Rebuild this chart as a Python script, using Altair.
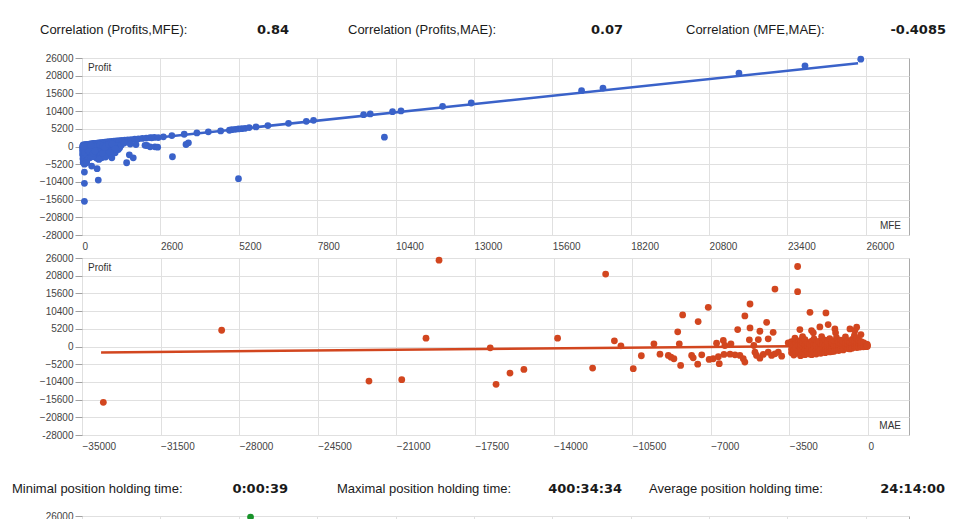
import altair as alt
import pandas as pd

# ---------------- data ----------------
header_labels = ["Correlation (Profits,MFE):", "Correlation (Profits,MAE):", "Correlation (MFE,MAE):"]
header_values = ["0.84", "0.07", "-0.4085"]
footer_labels = ["Minimal position holding time:", "Maximal position holding time:", "Average position holding time:"]
footer_values = ["0:00:39", "400:34:34", "24:14:00"]

y_ticks = [-26000, -20800, -15600, -10400, -5200, 0, 5200, 10400, 15600, 20800, 26000]
mfe_ticks = [0, 2600, 5200, 7800, 10400, 13000, 15600, 18200, 20800, 23400, 26000]
mae_ticks = [-35000, -31500, -28000, -24500, -21000, -17500, -14000, -10500, -7000, -3500, 0]
hold_ticks = [0, 40, 80, 120, 160, 200, 240, 280, 320, 360, 400]
hold_y_ticks = [26000]

# Profit vs MFE: points along the upper band
mfe_band = [40, 90, 140, 190, 240, 290, 340, 390, 440, 500, 560, 620, 690, 760, 830,
            900, 980, 1060, 1140, 1230, 1320, 1420, 1520, 1630, 1750, 1870, 2000, 2130,
            2260, 2310, 2400, 2530, 2700, 2980, 3390, 3810, 4190, 4600, 4890, 4970, 5080,
            5190, 5300, 5410, 5545, 5770, 6165, 6850, 7440, 7680, 9340, 9560, 10300,
            10580, 11960, 12910, 16570, 17280, 21790, 23980, 25830]
profit_band = [450, 520, 600, 640, 720, 780, 840, 900, 950, 1020, 1080, 1140, 1200, 1270, 1330,
               1400, 1470, 1540, 1620, 1700, 1780, 1870, 1960, 2050, 2150, 2250, 2360, 2470,
               2580, 2550, 2680, 2630, 2840, 3220, 3600, 4000, 4300, 4590, 4770, 4950, 5050,
               5150, 5250, 5350, 5560, 5760, 6145, 6820, 7410, 7700, 9360, 9560, 10240,
               10440, 11800, 12780, 16390, 17170, 21560, 23700, 25660]
# Profit vs MFE: cluster below the band
mfe_cluster = [20, 20, 30, 20, 40, 20, 30, 50, 30, 60, 40, 80,
               120, 150, 180, 130, 200, 160, 230, 110, 260, 190, 140, 280, 300, 320, 250, 350,
               380, 420, 400, 460, 500, 450, 520, 560, 600, 620, 820, 710, 650, 740, 790, 480, 530, 560,
               900, 960, 1000, 1050, 1100, 1205, 1150, 1250, 850, 780, 1300,
               1480, 1570, 1700, 1790, 2150, 2420, 2510, 2260, 2090, 3000, 3450, 3530, 10030,
               60, 100, 70, 90, 200, 240, 330, 360, 400, 600, 700, 760, 880, 1000, 1400, 1600,
               370, 430, 680, 300, 50, 1100, 930, 990]
profit_cluster = [100, -300, -700, -1200, -1600, -2100, -2600, -3100, -3600, -4100, -4700, -5200,
                  100, -300, -800, -1300, -1700, -2200, -2500, -2900, -3300, -3700, -4300, -600, -1100, -1900, -200, -400,
                  -1500, -2200, -900, -300, -1200, -2700, -1900, -600, -1500, -2400, -2630, -3010, -3310, -1000, -1700, -3400, -3500, -3800,
                  -500, 90, -1200, -300, -1840, -880, 200, -400, -2200, -3100, 400,
                  -4770, -2430, -3310, 585, 290, -90, -200, -100, 350, -3010, 585, 1080, 2730,
                  200, -500, -1000, -1800, -1100, -1400, -2500, -3000, 300, 500, 200, -200, 600, 800, 1000, 700,
                  -2000, -1300, -2000, 400, 0, -670, -1840, -3310]
mfe_outlier = [5190, 540, 80, 80, 80, 500, 320, 155]
profit_outlier = [-9450, -9860, -16090, -10830, -7520, -6530, -5760, -4770]
mfe_trend_x = [100, 25740]
mfe_trend_y = [350, 24450]

# Profit vs MAE
mae_outer = [-34050, -28780, -22220, -20760, -19680, -19100, -16820, -16560, -15940, -15320,
             -13820, -12260, -11680, -11290, -11000, -10450, -10090]
profit_outer = [-16400, 4770, -10150, -9750, 2430, 25370, -380, -11120, -7800, -6730,
                2430, -6350, 21270, 1670, 200, -6530, -2720]
mae_mid = [-9530, -9260, -8890, -8770, -8640, -8470, -8400, -8340, -8250, -7850,
           -7780, -7580, -7560, -7400, -7110, -7070, -6890, -6740, -6660, -6620,
           -6440, -6410, -6370, -6140, -6100, -5920, -5800, -5700, -5550, -5480,
           -5480, -5280, -5250, -5250, -5080, -5030, -4960, -4880, -4810, -4810,
           -4660, -4510, -4440, -4440, -4290, -4220, -4140, -4140, -3990, -3840]
profit_mid = [790, -2250, -2630, -3130, -3600, 4300, 790, -5560, 9270, -2630,
              -3310, -5180, 7320, -2430, 11500, -3800, -3600, 970, -3010, -5060,
              1760, -2340, 290, -2250, 790, -2430, 4970, -2630, -3600, 8980,
              -4590, 1960, 12490, 5470, 290, -1670, -2630, 2050, 4480, -3420,
              -2340, 7110, 2250, -1670, -2630, 4180, 16880, -2140, -1670, -2840]
mae_high = [-3550, -3400, -3250, -3130, -3130, -3030, -2910, -2580, -2510, -2430,
            -2140, -2060, -1870, -1770, -1470, -1440, -800, -580, -500, -310]
profit_high = [1080, 1460, 2430, 23500, 16090, 4970, 2930, 10040, 4680, 4010,
               5760, 2930, 9850, 6440, 5170, 4010, 5170, 4680, 5660, 3510]
# dense band near MAE 0: MAE -> profits
mae_band = {
    -3400: [500, -800, -1800], -3300: [200, -1200, -2500], -3200: [900, -300, -2000],
    -3100: [1300, -1500, 400], -3000: [-600, 700, -2700, 1800], -2900: [100, -1900, 1100],
    -2800: [-1000, 2000, 500, -2400], -2700: [300, -1500, 1200], -2600: [-700, 800, -2200],
    -2500: [0, -1300, 1600, -2400], -2400: [600, -500, -1900, 2200], -2300: [-1100, 1000, 300, -2200],
    -2200: [1500, -300, -1600], -2100: [200, -900, 900, -2000], -2000: [-400, 1200, -1500, 600],
    -1900: [400, -1100, 1900, -1800], -1800: [-200, 800, -1400, 1400], -1700: [0, -800, 2300, -1600],
    -1600: [500, -600, 1100, -1500], -1500: [-300, 300, 1600, -1400], -1400: [800, -900, 200, 2600],
    -1300: [-500, 400, 1300, -1200], -1200: [100, -700, 900, 1900], -1100: [600, -400, -1000, 1500],
    -1000: [-200, 300, 1000, 2800], -900: [200, -600, 700, 1700], -800: [-300, 400, 1200, -700],
    -700: [100, 600, -500, 2100], -600: [-100, 300, 900, 1600, 3300], -500: [200, -300, 700, 1300, 2400],
    -400: [0, 500, -200, 1000, 1800], -300: [100, 400, -100, 800, 1400], -200: [0, 300, 600, -100, 1100],
    -100: [100, 200, 500, 800, 0], -30: [0, 300, 600, 200],
}
mae_trend_x = [-34150, -20]
mae_trend_y = [-1760, 290]

# third panel (only its top edge is visible)
hold_hours = [86]
hold_profit = [25700]

# ---------------- styling ----------------
BLUE = "#3a62c9"
RED = "#d2461f"
GREEN = "#18932a"
W, H = 827, 177
FONT = "Liberation Sans"
VALFONT = "DejaVu Sans"
PT = 46

df1 = pd.DataFrame({"MFE": mfe_band + mfe_cluster + mfe_outlier,
                    "Profit": profit_band + profit_cluster + profit_outlier})
tr1 = pd.DataFrame({"MFE": mfe_trend_x, "Profit": mfe_trend_y})
band_x = [k for k, v in mae_band.items() for _ in v]
band_y = [p for v in mae_band.values() for p in v]
df2 = pd.DataFrame({"MAE": mae_outer + mae_mid + mae_high + band_x,
                    "Profit": profit_outer + profit_mid + profit_high + band_y})
tr2 = pd.DataFrame({"MAE": mae_trend_x, "Profit": mae_trend_y})
df3 = pd.DataFrame({"Hours": hold_hours, "Profit": hold_profit})


def y_axis(vals):
    return alt.Axis(values=vals, tickCount=len(vals), format="d", title=None,
                    labelExpr="datum.value == -26000 ? '-28000' : datum.label",
                    tickSize=7, tickColor="#a0a0a0", labelPadding=2, domain=False,
                    labelOverlap=False, labelFlush=False,
                    gridColor="#e0e0e0", labelFontSize=10, labelColor="#444444", labelFont=FONT)


def x_axis(ticks, labels=True):
    return alt.Axis(values=ticks, tickCount=len(ticks), format="d", title=None, ticks=False,
                    labelAlign="left", labelPadding=6, labelFlush=False, labelOverlap=False,
                    domain=False, labels=labels,
                    gridColor="#e0e0e0", labelFontSize=10, labelColor="#444444", labelFont=FONT)


def txt(s, x, y, align="left", size=13, bold=False, font=FONT, color="#1a1a1a"):
    return (alt.Chart(pd.DataFrame({"t": [s]}))
            .mark_text(align=align, baseline="middle", fontSize=size,
                       fontWeight="bold" if bold else "normal", font=font, color=color)
            .encode(x=alt.value(x), y=alt.value(y), text="t:N"))


ys = alt.Scale(domain=[-26000, 26000], nice=False, zero=False)

# panel 1
xs1 = alt.Scale(domain=[0, 27430], nice=False, zero=False)
pts1 = alt.Chart(df1).mark_circle(size=PT, color=BLUE, opacity=1).encode(
    x=alt.X("MFE:Q", scale=xs1, axis=x_axis(mfe_ticks)),
    y=alt.Y("Profit:Q", scale=ys, axis=y_axis(y_ticks)))
line1 = alt.Chart(tr1).mark_line(color=BLUE, strokeWidth=2.5).encode(
    x=alt.X("MFE:Q", scale=xs1), y=alt.Y("Profit:Q", scale=ys))
hdr = []
for lab, lx, val, vx in zip(header_labels, [-42, 266, 604], header_values, [207, 541, 864]):
    hdr.append(txt(lab, lx, -28))
    hdr.append(txt(val, vx, -28, align="right", bold=True, font=VALFONT))
p1 = alt.layer(line1, pts1,
               txt("Profit", 6, 10, size=10, color="#333333"),
               txt("MFE", 819, 168, align="right", size=10, color="#333333"),
               *hdr).properties(width=W, height=H)

# panel 2
xs2 = alt.Scale(domain=[-35000, 1830], nice=False, zero=False)
pts2 = alt.Chart(df2).mark_circle(size=PT, color=RED, opacity=1).encode(
    x=alt.X("MAE:Q", scale=xs2, axis=x_axis(mae_ticks)),
    y=alt.Y("Profit:Q", scale=ys, axis=y_axis(y_ticks)))
line2 = alt.Chart(tr2).mark_line(color=RED, strokeWidth=2.5).encode(
    x=alt.X("MAE:Q", scale=xs2), y=alt.Y("Profit:Q", scale=ys))
p2 = alt.layer(line2, pts2,
               txt("Profit", 6, 10, size=10, color="#333333"),
               txt("MAE", 819, 168, align="right", size=10, color="#333333")
               ).properties(width=W, height=H)

# footer spacer
ftr = []
for lab, lx, val, vx in zip(footer_labels, [-70, 255, 567], footer_values, [206, 540, 863]):
    ftr.append(txt(lab, lx, 31))
    ftr.append(txt(val, vx, 31, align="right", bold=True, font=VALFONT))
spacer = alt.layer(*ftr).properties(width=W, height=35, view=alt.ViewBackground(stroke=None))

# panel 3 (only its top edge is in view)
xs3 = alt.Scale(domain=[0, 422], nice=False, zero=False)
pts3 = alt.Chart(df3).mark_circle(size=PT, color=GREEN, opacity=1).encode(
    x=alt.X("Hours:Q", scale=xs3, axis=x_axis(hold_ticks, labels=False)),
    y=alt.Y("Profit:Q", scale=ys, axis=y_axis(hold_y_ticks)))
p3 = pts3.properties(width=W, height=H)

chart = alt.vconcat(p1, p2, spacer, p3, spacing=23, bounds="flush").properties(
    padding={"left": 4, "top": 15, "right": 4, "bottom": 0},
    background="white",
).configure_view(stroke="#a9a9a9")

chart.save("out.html", embed_options={"renderer": "svg", "actions": False})
